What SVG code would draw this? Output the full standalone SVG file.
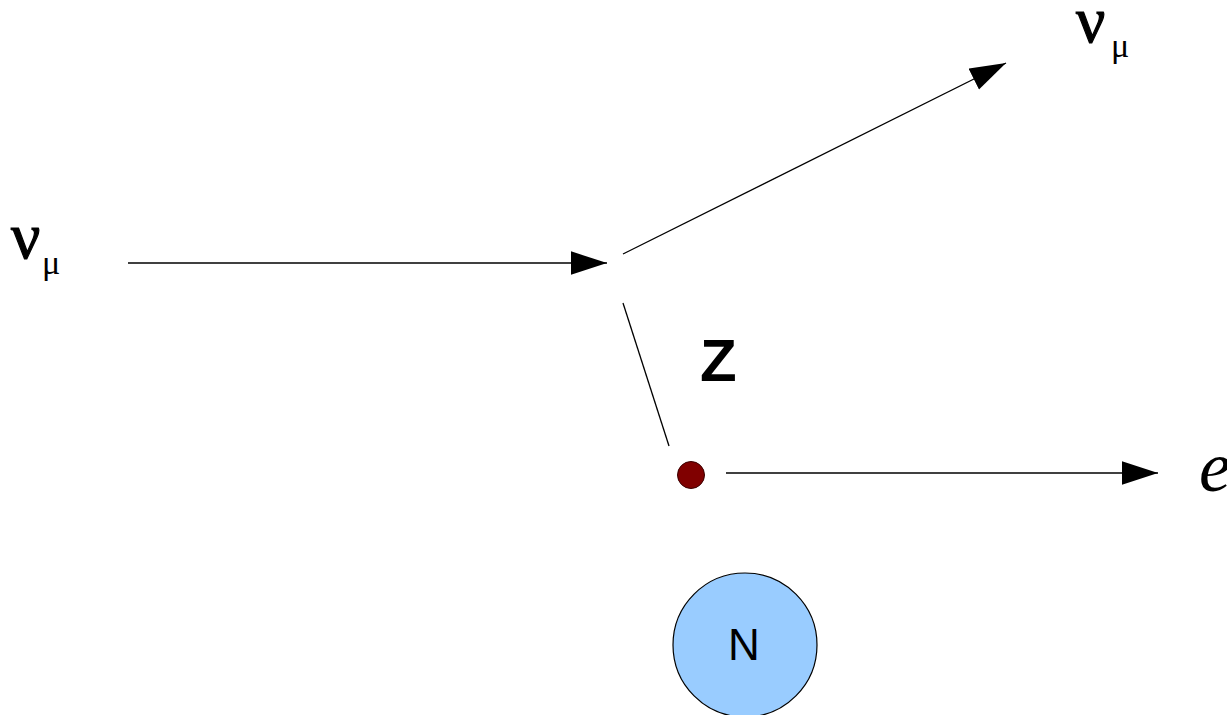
<svg xmlns="http://www.w3.org/2000/svg" width="1227" height="715" viewBox="0 0 1227 715">
  <style>
    .ln { stroke: #000; stroke-width: 1.3; fill: none; }
    .greek { font-family: "Liberation Serif", "DejaVu Serif", serif; fill: #000; }
    .nu { font-family: "Liberation Serif", serif; fill: #000; stroke: #000; stroke-width: 1.2; }
    .sans { font-family: "Liberation Sans", Arial, sans-serif; fill: #000; }
  </style>
  <defs>
    <marker id="arr" markerUnits="userSpaceOnUse" markerWidth="36" markerHeight="24" viewBox="0 0 34 22" refX="34" refY="11" orient="auto">
      <path d="M0,0 L34,11 L0,22 z" fill="#000"/>
    </marker>
  </defs>
  <rect width="1227" height="715" fill="#fff"/>
  <g id="connectors">
    <line class="ln" x1="128" y1="263" x2="607" y2="263" marker-end="url(#arr)"/>
    <line class="ln" x1="623" y1="254" x2="1006" y2="63" marker-end="url(#arr)"/>
    <line class="ln" x1="623" y1="303" x2="669" y2="446"/>
    <line class="ln" x1="726" y1="473" x2="1158" y2="473" marker-end="url(#arr)"/>
  </g>
  <g id="nu-in">
    <text class="nu" x="11" y="258" font-size="65">ν</text>
    <text class="greek" x="42" y="274" font-size="34">μ</text>
  </g>
  <g id="nu-out">
    <text class="nu" x="1076" y="42" font-size="65">ν</text>
    <text class="greek" x="1111" y="57" font-size="34">μ</text>
  </g>
  <g id="z-label">
    <text class="sans" x="700" y="381" font-size="60" font-weight="bold">Z</text>
  </g>
  <g id="vertex">
    <circle cx="691" cy="475" r="13.5" fill="#800000" stroke="#3a0000" stroke-width="1"/>
  </g>
  <g id="electron">
    <text class="greek" x="1199" y="491" font-size="72" font-style="italic">e</text>
  </g>
  <g id="nucleus">
    <circle cx="745" cy="645" r="72" fill="#99ccff" stroke="#000" stroke-width="1.2"/>
    <text class="sans" x="744" y="660" font-size="44" text-anchor="middle">N</text>
  </g>
</svg>
